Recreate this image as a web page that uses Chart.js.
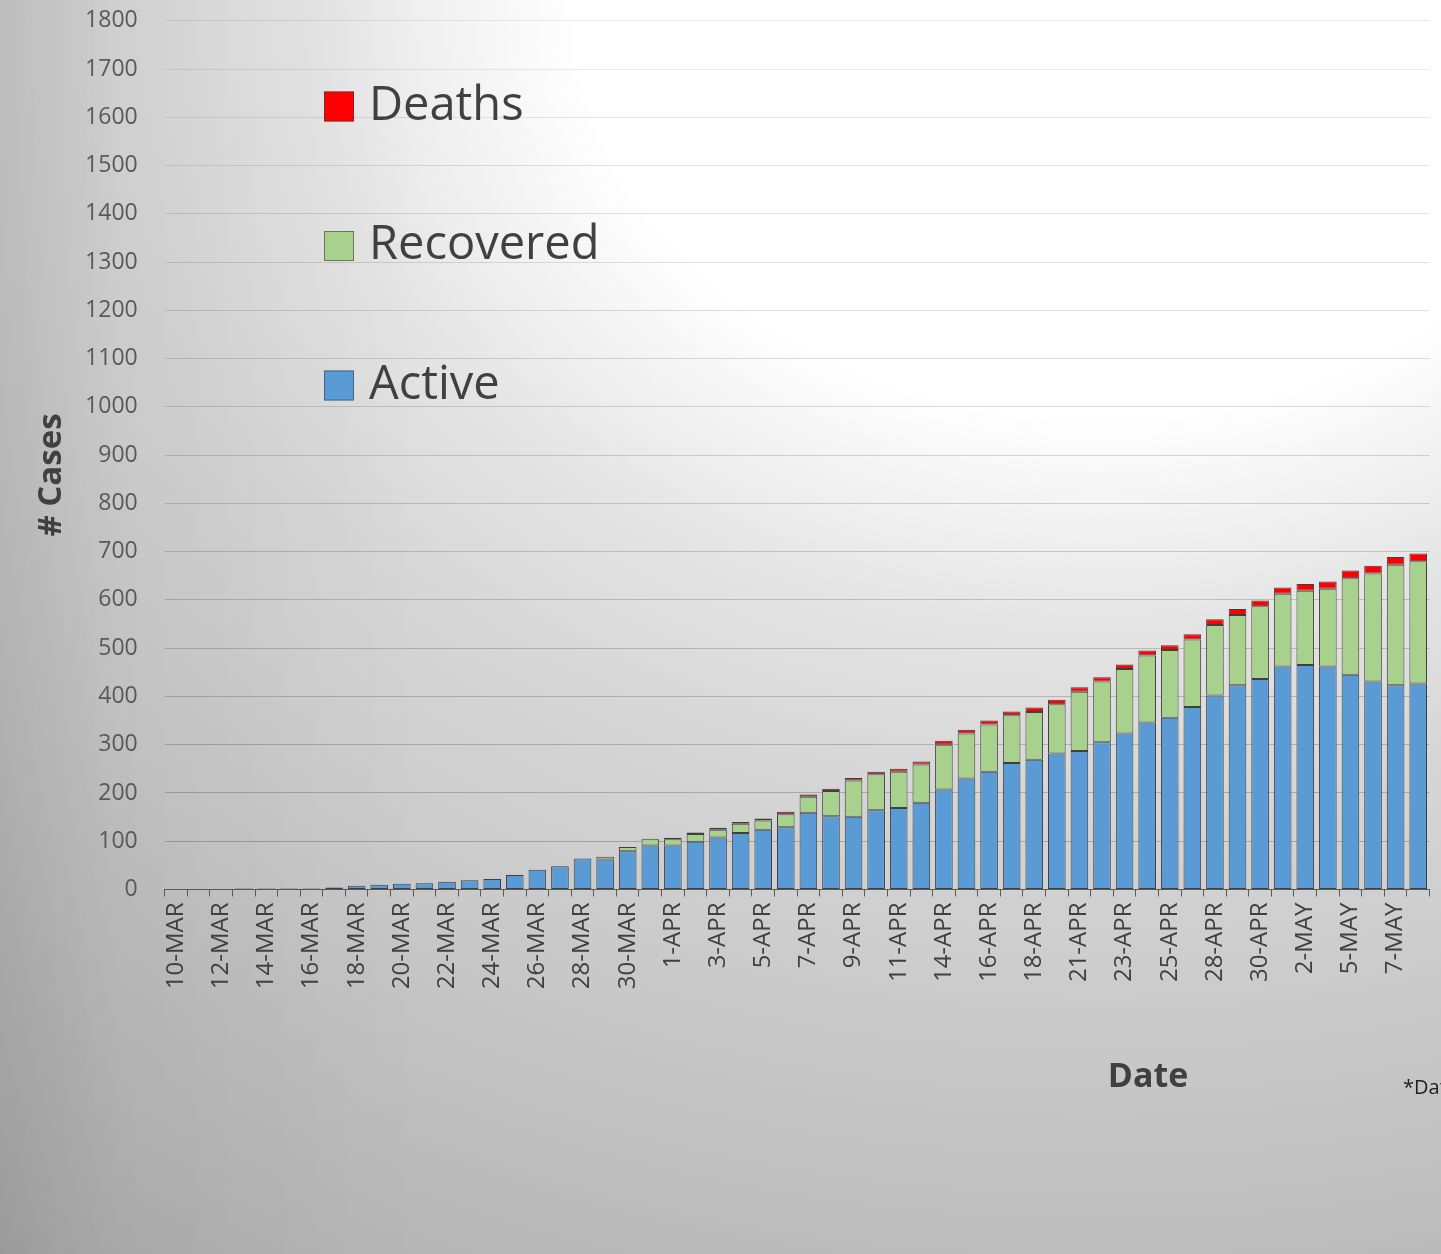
<!DOCTYPE html>
<html>
<head>
<meta charset="utf-8">
<script src="https://cdn.jsdelivr.net/npm/chart.js@4/dist/chart.umd.min.js"></script>
<style>
  html, body { margin: 0; padding: 0; }
  body {
    width: 1441px; height: 1254px; overflow: hidden;
    background:
      linear-gradient(to right, rgba(0,0,0,0.10) 0px, rgba(0,0,0,0.04) 120px, rgba(0,0,0,0) 420px),
      radial-gradient(1450px 1150px at 1100px 0px, #ffffff 0%, #ffffff 36%, #e4e4e4 55%, #d6d6d6 70%, #c6c6c6 95%, #ababab 135%);
  }
  #wrap { position: absolute; left: 0; top: 0; width: 1453px; height: 1254px; }
</style>
</head>
<body>
<div id="wrap"><canvas id="c" width="1453" height="1254"></canvas></div>
<script>
// ---- data ----
const dates = [
  '10-MAR','11-MAR','12-MAR','13-MAR','14-MAR','15-MAR','16-MAR','17-MAR','18-MAR','19-MAR',
  '20-MAR','21-MAR','22-MAR','23-MAR','24-MAR','25-MAR','26-MAR','27-MAR','28-MAR','29-MAR',
  '30-MAR','31-MAR','1-APR','2-APR','3-APR','4-APR','5-APR','6-APR','7-APR','8-APR',
  '9-APR','10-APR','11-APR','13-APR','14-APR','15-APR','16-APR','17-APR','18-APR','20-APR',
  '21-APR','22-APR','23-APR','24-APR','25-APR','27-APR','28-APR','29-APR','30-APR','1-MAY',
  '2-MAY','4-MAY','5-MAY','6-MAY','7-MAY','8-MAY'
];
const active = [
  0,0,1,2,2,2,2,4,8,10,
  12,13,16,19,22,30,41,48,64,62,
  79,91,91,99,108,117,124,129,159,152,
  151,164,169,180,207,230,244,262,269,282,
  287,305,323,346,356,378,402,423,436,462,
  465,462,445,431,423,427
];
const recovered = [
  0,0,0,0,0,0,0,0,0,0,
  0,0,0,0,0,0,0,0,0,6,
  9,13,13,16,16,19,19,27,33,52,
  75,75,75,79,93,93,98,99,99,102,
  123,126,134,139,140,140,146,146,151,151,
  154,161,200,224,250,253
];
const deaths = [
  0,0,0,0,0,0,0,0,0,0,
  0,0,0,0,0,0,0,0,0,0,
  0,1,3,3,4,4,4,5,5,5,
  5,5,6,6,8,8,8,8,9,9,
  9,9,9,10,10,11,12,12,12,13,
  14,15,16,16,16,16
];
const yTicksMax = 1800;
const yStep = 100;
const seriesNames = ['Active', 'Recovered', 'Deaths'];
const seriesColors = ['#5b9bd5', '#a9d18e', '#ff0000'];
const yTitle = '# Cases';
const xTitle = 'Date';
const footnote = '*Data';

const FONT = "'Open Sans', sans-serif";

const textPlugin = {
  id: 'textPlugin',
  afterDraw(chart) {
    const ctx = chart.ctx;
    ctx.save();
    // legend (reverse order: Deaths, Recovered, Active)
    const ds = chart.data.datasets.slice().reverse();
    const legendY = [106.5, 246, 385.5];
    ds.forEach((d, i) => {
      const cy = legendY[i];
      ctx.fillStyle = d.backgroundColor;
      ctx.fillRect(324, cy - 15, 30, 30);
      ctx.strokeStyle = 'rgba(60,60,60,0.6)';
      ctx.lineWidth = 1;
      ctx.strokeRect(324.5, cy - 14.5, 29, 29);
      ctx.fillStyle = '#404040';
      ctx.font = '47px ' + FONT;
      ctx.textAlign = 'left';
      ctx.textBaseline = 'middle';
      ctx.fillText(d.label, 369, cy);
    });
    // y title
    ctx.save();
    ctx.translate(52, 475);
    ctx.rotate(-Math.PI / 2);
    ctx.font = 'bold 33px ' + FONT;
    ctx.fillStyle = '#404040';
    ctx.textAlign = 'center';
    ctx.textBaseline = 'middle';
    ctx.fillText(yTitle, 0, 0);
    ctx.restore();
    // x title
    ctx.font = 'bold 34px ' + FONT;
    ctx.fillStyle = '#404040';
    ctx.textAlign = 'center';
    ctx.textBaseline = 'middle';
    ctx.fillText(xTitle, 1148, 1077);
    // footnote (cut at the window edge)
    ctx.font = '20px ' + FONT;
    ctx.fillStyle = '#202020';
    ctx.textAlign = 'left';
    ctx.fillText(footnote, 1403, 1088);
    ctx.restore();
  }
};

const values = [active, recovered, deaths];
new Chart(document.getElementById('c'), {
  type: 'bar',
  data: {
    labels: dates,
    datasets: seriesNames.map((n, i) => ({
      label: n,
      data: values[i],
      backgroundColor: seriesColors[i],
      borderColor: '#3f3f3f',
      borderWidth: 1,
      borderSkipped: false,
      categoryPercentage: 1.0,
      barPercentage: 0.78
    }))
  },
  options: {
    responsive: false,
    devicePixelRatio: 1,
    animation: false,
    layout: { padding: { top: 0, left: 0, right: 0, bottom: 0 } },
    plugins: { legend: { display: false }, tooltip: { enabled: false } },
    scales: {
      x: {
        stacked: true,
        grid: {
          drawOnChartArea: false,
          drawTicks: true,
          tickLength: 7,
          color: '#595959',
          offset: true
        },
        border: { display: true, color: '#595959', width: 1 },
        ticks: {
          autoSkip: false,
          maxRotation: 90,
          minRotation: 90,
          padding: 6,
          color: '#404040',
          font: { family: FONT, size: 24 },
          callback: function (v, i) { return i % 2 === 0 ? dates[i] : ''; }
        },
        afterFit: function (s) { s.height = 1254 - 889.5; }
      },
      y: {
        stacked: true,
        min: 0,
        max: yTicksMax,
        ticks: {
          stepSize: yStep,
          padding: 7,
          color: '#595959',
          font: { family: FONT, size: 23 },
          callback: function (v) { return String(v); }
        },
        grid: {
          drawTicks: true,
          tickLength: 20,
          tickColor: 'rgba(0,0,0,0)',
          lineWidth: 1,
          color: function (c) {
            const v = c.tick ? c.tick.value : 0;
            const a = 0.22 - 0.14 * (v / yTicksMax);
            return 'rgba(0,0,0,' + a.toFixed(3) + ')';
          }
        },
        border: { display: false },
        afterFit: function (s) { s.width = 164.7; }
      }
    }
  },
  plugins: [textPlugin]
});
</script>
</body>
</html>
